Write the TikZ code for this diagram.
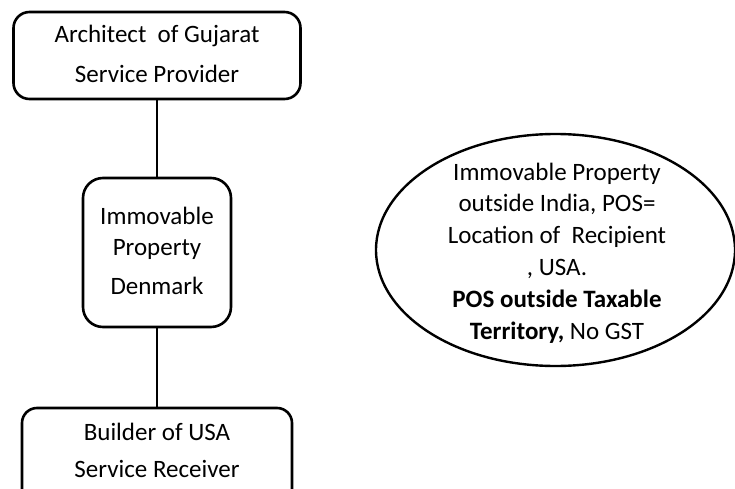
\documentclass[tikz,border=0pt]{standalone}
\usepackage{fontspec}
\setmainfont{Carlito}
\usetikzlibrary{shapes.geometric}
\begin{document}
\begin{tikzpicture}[x=1pt,y=-1pt,
  box/.style={draw, line width=2.6pt, inner sep=0pt},
  bubble/.style={draw, ellipse, line width=2.4pt, inner sep=0pt},
  txt/.style={anchor=base, inner sep=0pt, font=\fontsize{25}{30}\selectfont},
  link/.style={line width=2.6pt}]
\useasboundingbox (0,0) rectangle (735,489);
\clip (0,0) rectangle (735,489);

% parties and the property
\node[box, rounded corners=16pt, minimum width=287pt, minimum height=87pt] (provider) at (157,55.5) {};
\node[box, rounded corners=20pt, minimum width=148pt, minimum height=149pt] (property) at (157,252.5) {};
\node[box, rounded corners=15pt, minimum width=270pt, minimum height=112pt] (receiver) at (157,464) {};

\node[txt] (p1) at (157,43) {Architect\ \ of Gujarat};
\node[txt] (p2) at (157,83) {Service Provider};
\node[txt] (m1) at (157,224) {Immovable};
\node[txt] (m2) at (157,255) {Property};
\node[txt] (m3) at (157,294) {Denmark};
\node[txt] (r1) at (157,440) {Builder of USA};
\node[txt] (r2) at (157,477) {Service Receiver};

\draw[link] (provider) -- (property);
\draw[link] (property) -- (receiver);

% place of supply note
\node[bubble, minimum width=359pt, minimum height=232pt] (note) at (555.5,250) {};
\node[txt] (n1) at (557,180) {Immovable Property};
\node[txt] (n2) at (557,211.8) {outside India, POS=};
\node[txt] (n3) at (557,243.6) {Location of\ \ Recipient};
\node[txt] (n4) at (557,275.4) {, USA.};
\node[txt] (n5) at (557,307.2) {\bfseries POS outside Taxable};
\node[txt] (n6) at (557,339) {\textbf{Territory,} No GST};
\end{tikzpicture}
\end{document}
